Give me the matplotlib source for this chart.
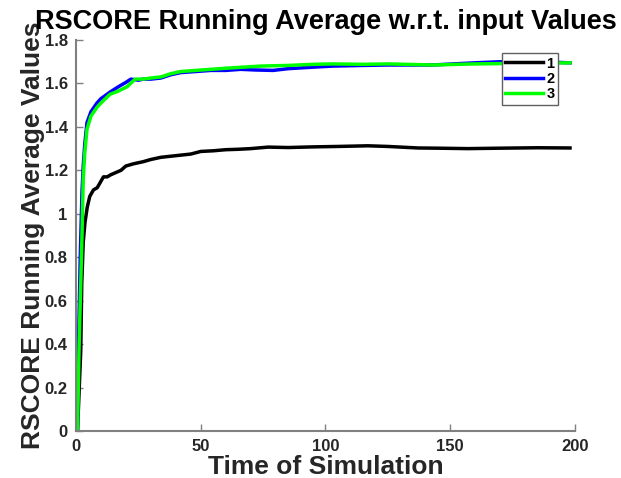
import matplotlib
matplotlib.use("Agg")
import matplotlib.pyplot as plt

# running averages
t1 = [0.6, 1.9, 2.3, 2.9, 3.6, 4.5, 5.5, 7, 8.5, 10, 11, 12.5, 14, 16, 18, 20, 23, 27, 30, 34,
      38, 42, 46, 50, 55, 60, 65, 70, 77, 85, 95, 105, 117, 125, 137, 145, 157, 170, 185, 198]
v1 = [0, 0.37, 0.68, 0.87, 0.96, 1.03, 1.08, 1.11, 1.12, 1.15, 1.17, 1.17, 1.18, 1.19, 1.20, 1.22, 1.23, 1.24, 1.25, 1.26,
      1.265, 1.27, 1.275, 1.287, 1.29, 1.295, 1.297, 1.30, 1.307, 1.305, 1.308, 1.31, 1.313, 1.31, 1.303, 1.302, 1.30, 1.302, 1.304, 1.303]

t2 = [0.6, 1.1, 1.7, 2.4, 2.9, 3.5, 4.4, 6, 8.4, 10, 13.6, 17, 20, 22, 25, 27, 30, 34, 38, 42, 48,
      54, 60, 66, 72, 79, 85, 95, 103, 115, 125, 143, 160, 170, 185, 198]
v2 = [0, 0.45, 0.8, 1.1, 1.22, 1.32, 1.42, 1.47, 1.51, 1.53, 1.56, 1.585, 1.605, 1.62, 1.615, 1.62, 1.62, 1.625, 1.64, 1.65, 1.655,
      1.66, 1.66, 1.665, 1.662, 1.66, 1.668, 1.675, 1.68, 1.683, 1.685, 1.685, 1.695, 1.70, 1.70, 1.695]

t3 = [0.6, 1.2, 1.9, 2.4, 2.9, 3.5, 4.4, 6, 8.4, 10, 13.6, 17, 20.5, 23.7, 27, 30, 34, 38, 42, 48,
      54, 60, 67, 74, 85, 95, 103, 115, 125, 143, 160, 175, 198]
v3 = [0, 0.37, 0.68, 0.9, 1.16, 1.28, 1.39, 1.45, 1.49, 1.51, 1.55, 1.565, 1.585, 1.62, 1.62, 1.625, 1.63, 1.645, 1.655, 1.66,
      1.665, 1.67, 1.675, 1.68, 1.683, 1.688, 1.69, 1.688, 1.69, 1.685, 1.69, 1.692, 1.695]

labels = ["1", "2", "3"]

plt.rcParams['font.family'] = ['Liberation Sans', 'DejaVu Sans']
plt.rcParams['font.weight'] = 'bold'

fig = plt.figure(figsize=(6.21, 4.78), dpi=100)
ax = fig.add_axes([0.1224, 0.0983, 0.8035, 0.818])

ax.plot(t1, v1, color='k', lw=2.5, label=labels[0])
ax.plot(t2, v2, color='#0000ff', lw=2.5, label=labels[1])
ax.plot(t3, v3, color='#00ff00', lw=2.5, label=labels[2])

ax.set_xlim(0, 200)
ax.set_ylim(0, 1.8)
ax.set_xticks([0, 50, 100, 150, 200])
ax.set_yticks([0, 0.2, 0.4, 0.6, 0.8, 1, 1.2, 1.4, 1.6, 1.8])
ax.set_yticklabels(['0', '0.2', '0.4', '0.6', '0.8', '1', '1.2', '1.4', '1.6', '1.8'])

for s in ['top', 'right']:
    ax.spines[s].set_visible(False)
for s in ['left', 'bottom']:
    ax.spines[s].set_color('#808080')
    ax.spines[s].set_linewidth(1.5)
ax.tick_params(direction='in', length=5, width=1, color='#808080',
               labelsize=12, labelcolor='#262626')
ax.tick_params(axis='x', pad=6)
ax.tick_params(axis='y', pad=6)
for lab in ax.get_xticklabels() + ax.get_yticklabels():
    lab.set_fontweight('bold')

ax.set_title('RSCORE Running Average w.r.t. input Values', fontsize=19.5, fontweight='bold', pad=8)
ax.set_xlabel('Time of Simulation', fontsize=19, fontweight='bold', color='#262626', labelpad=0.5)
ax.set_ylabel('RSCORE Running Average Values', fontsize=19, fontweight='bold', color='#262626', labelpad=0)

leg = ax.legend(loc='upper right', bbox_to_anchor=(0.966, 0.967), borderaxespad=0,
                fontsize=10.5, handlelength=2.6, handletextpad=0.2, labelspacing=0.1,
                borderpad=0.25, fancybox=False, framealpha=1)
leg.get_frame().set_edgecolor('#606060')
for txt in leg.get_texts():
    txt.set_fontweight('bold')

fig.savefig('out.png', dpi=100)
